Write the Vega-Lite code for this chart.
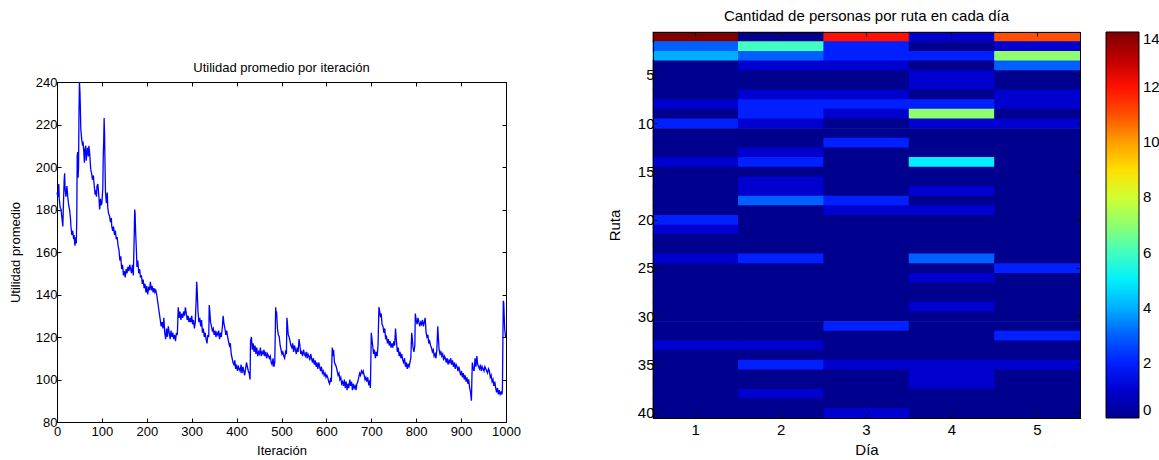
{
  "$schema": "https://vega.github.io/schema/vega-lite/v6.json",
  "padding": {"left": 8, "top": 8, "right": 0, "bottom": 0},
  "spacing": 85,
  "config": {
    "font": "Liberation Sans",
    "view": {"stroke": "#000", "strokeWidth": 1},
    "axis": {"domainColor": "#000", "tickColor": "#000", "labelColor": "#000", "titleColor": "#000", "titleFontWeight": "normal", "grid": false, "tickSize": -4, "labelPadding": 8, "domainWidth": 1, "labelFlush": false},
    "title": {"color": "#000", "fontWeight": "normal"},
    "legend": {"labelColor": "#000"}
  },
  "hconcat": [
    {
      "spacing": 0,
      "vconcat": [
        {
          "width": 449,
          "height": 29,
          "view": {"stroke": null},
          "data": {"values": [{}]},
          "mark": {"type": "point", "opacity": 0}
        },
        {
          "width": 449,
          "height": 340,
          "title": {"text": "Utilidad promedio por iteración", "fontSize": 13, "offset": 1},
          "data": {"values": [
            {"i":0,"u":188},{"i":2,"u":186},{"i":4,"u":192},{"i":5,"u":185},{"i":7,"u":181},{"i":9,"u":180},{"i":11,"u":176},{"i":13,"u":172},{"i":14,"u":180},{"i":16,"u":194},{"i":17,"u":197},{"i":18,"u":190},{"i":20,"u":186},{"i":22,"u":191},{"i":24,"u":186},{"i":26,"u":182},{"i":28,"u":180},{"i":30,"u":176},{"i":31,"u":172},{"i":33,"u":168},{"i":35,"u":170},{"i":37,"u":166},{"i":38,"u":168},{"i":40,"u":163},{"i":42,"u":167},{"i":43,"u":164},{"i":44,"u":175},{"i":45,"u":205},{"i":46,"u":207},{"i":47,"u":195},{"i":48,"u":200},{"i":49,"u":226},{"i":50,"u":240},{"i":51,"u":236},{"i":52,"u":228},{"i":53,"u":218},{"i":55,"u":213},{"i":57,"u":210},{"i":58,"u":212},{"i":60,"u":206},{"i":61,"u":202},{"i":62,"u":208},{"i":64,"u":210},{"i":65,"u":203},{"i":66,"u":205},{"i":68,"u":209},{"i":70,"u":205},{"i":71,"u":210},{"i":73,"u":206},{"i":75,"u":199},{"i":77,"u":197},{"i":79,"u":194},{"i":81,"u":196},{"i":83,"u":191},{"i":85,"u":187},{"i":86,"u":189},{"i":88,"u":186},{"i":89,"u":191},{"i":91,"u":192},{"i":93,"u":187},{"i":95,"u":180},{"i":97,"u":185},{"i":98,"u":182},{"i":100,"u":183},{"i":102,"u":190},{"i":103,"u":205},{"i":104,"u":212},{"i":105,"u":223},{"i":106,"u":215},{"i":107,"u":200},{"i":108,"u":188},{"i":110,"u":183},{"i":112,"u":188},{"i":113,"u":181},{"i":115,"u":178},{"i":117,"u":177},{"i":119,"u":174},{"i":121,"u":176},{"i":122,"u":172},{"i":124,"u":170},{"i":126,"u":172},{"i":128,"u":168},{"i":130,"u":170},{"i":132,"u":166},{"i":134,"u":167},{"i":136,"u":163},{"i":138,"u":161},{"i":140,"u":156},{"i":142,"u":158},{"i":144,"u":152},{"i":146,"u":154},{"i":148,"u":149},{"i":150,"u":151},{"i":152,"u":148},{"i":154,"u":152},{"i":156,"u":150},{"i":158,"u":153},{"i":160,"u":151},{"i":162,"u":154},{"i":164,"u":152},{"i":166,"u":150},{"i":168,"u":154},{"i":170,"u":149},{"i":172,"u":168},{"i":173,"u":180},{"i":174,"u":178},{"i":175,"u":170},{"i":177,"u":160},{"i":178,"u":153},{"i":180,"u":156},{"i":182,"u":150},{"i":184,"u":152},{"i":186,"u":148},{"i":188,"u":149},{"i":190,"u":145},{"i":192,"u":147},{"i":194,"u":143},{"i":196,"u":145},{"i":198,"u":141},{"i":200,"u":144},{"i":202,"u":140},{"i":204,"u":143},{"i":206,"u":142},{"i":208,"u":146},{"i":210,"u":142},{"i":212,"u":144},{"i":214,"u":141},{"i":216,"u":143},{"i":218,"u":141},{"i":220,"u":142},{"i":222,"u":140},{"i":224,"u":137},{"i":226,"u":134},{"i":228,"u":131},{"i":230,"u":128},{"i":232,"u":125},{"i":234,"u":127},{"i":236,"u":124},{"i":238,"u":129},{"i":240,"u":122},{"i":242,"u":119},{"i":244,"u":124},{"i":246,"u":120},{"i":248,"u":125},{"i":250,"u":122},{"i":252,"u":119},{"i":254,"u":123},{"i":256,"u":120},{"i":258,"u":122},{"i":260,"u":119},{"i":262,"u":121},{"i":264,"u":118},{"i":266,"u":122},{"i":268,"u":121},{"i":270,"u":134},{"i":272,"u":129},{"i":274,"u":132},{"i":276,"u":128},{"i":278,"u":131},{"i":280,"u":129},{"i":282,"u":132},{"i":284,"u":130},{"i":286,"u":134},{"i":288,"u":131},{"i":290,"u":128},{"i":292,"u":130},{"i":294,"u":127},{"i":296,"u":129},{"i":298,"u":127},{"i":300,"u":130},{"i":302,"u":126},{"i":304,"u":128},{"i":306,"u":124},{"i":308,"u":127},{"i":310,"u":138},{"i":311,"u":146},{"i":312,"u":143},{"i":314,"u":132},{"i":316,"u":127},{"i":318,"u":129},{"i":320,"u":125},{"i":322,"u":128},{"i":324,"u":122},{"i":326,"u":124},{"i":328,"u":120},{"i":330,"u":122},{"i":332,"u":119},{"i":334,"u":117},{"i":336,"u":121},{"i":338,"u":120},{"i":339,"u":135},{"i":340,"u":133},{"i":342,"u":127},{"i":344,"u":125},{"i":346,"u":123},{"i":348,"u":124},{"i":350,"u":121},{"i":352,"u":123},{"i":354,"u":120},{"i":356,"u":122},{"i":358,"u":121},{"i":360,"u":123},{"i":362,"u":119},{"i":364,"u":122},{"i":366,"u":120},{"i":368,"u":124},{"i":370,"u":130},{"i":372,"u":126},{"i":374,"u":124},{"i":376,"u":121},{"i":378,"u":123},{"i":380,"u":120},{"i":382,"u":118},{"i":384,"u":116},{"i":386,"u":117},{"i":388,"u":112},{"i":390,"u":110},{"i":392,"u":108},{"i":394,"u":107},{"i":396,"u":109},{"i":398,"u":105},{"i":400,"u":107},{"i":402,"u":104},{"i":404,"u":106},{"i":406,"u":105},{"i":408,"u":104},{"i":410,"u":107},{"i":412,"u":103},{"i":414,"u":106},{"i":416,"u":104},{"i":418,"u":102},{"i":420,"u":105},{"i":422,"u":108},{"i":424,"u":106},{"i":426,"u":104},{"i":428,"u":103},{"i":430,"u":100},{"i":431,"u":118},{"i":433,"u":120},{"i":435,"u":114},{"i":437,"u":117},{"i":439,"u":113},{"i":441,"u":116},{"i":443,"u":112},{"i":445,"u":115},{"i":447,"u":111},{"i":449,"u":113},{"i":451,"u":112},{"i":453,"u":115},{"i":455,"u":111},{"i":457,"u":113},{"i":459,"u":112},{"i":461,"u":114},{"i":463,"u":111},{"i":465,"u":113},{"i":467,"u":110},{"i":469,"u":112},{"i":471,"u":111},{"i":473,"u":110},{"i":475,"u":111},{"i":477,"u":108},{"i":479,"u":107},{"i":481,"u":110},{"i":483,"u":106},{"i":485,"u":108},{"i":486,"u":120},{"i":487,"u":134},{"i":488,"u":131},{"i":489,"u":132},{"i":491,"u":124},{"i":493,"u":121},{"i":495,"u":120},{"i":497,"u":116},{"i":499,"u":114},{"i":501,"u":112},{"i":503,"u":113},{"i":505,"u":111},{"i":507,"u":110},{"i":509,"u":113},{"i":511,"u":112},{"i":512,"u":129},{"i":513,"u":127},{"i":515,"u":121},{"i":517,"u":120},{"i":519,"u":118},{"i":521,"u":116},{"i":523,"u":115},{"i":525,"u":117},{"i":527,"u":113},{"i":529,"u":116},{"i":531,"u":114},{"i":533,"u":112},{"i":535,"u":115},{"i":537,"u":113},{"i":539,"u":119},{"i":541,"u":116},{"i":543,"u":112},{"i":545,"u":113},{"i":547,"u":111},{"i":549,"u":114},{"i":551,"u":112},{"i":553,"u":111},{"i":555,"u":113},{"i":557,"u":110},{"i":559,"u":112},{"i":561,"u":111},{"i":563,"u":109},{"i":565,"u":112},{"i":567,"u":110},{"i":569,"u":108},{"i":571,"u":110},{"i":573,"u":107},{"i":575,"u":109},{"i":577,"u":106},{"i":579,"u":108},{"i":581,"u":105},{"i":583,"u":108},{"i":585,"u":106},{"i":587,"u":104},{"i":589,"u":106},{"i":591,"u":103},{"i":593,"u":104},{"i":595,"u":102},{"i":597,"u":103},{"i":599,"u":101},{"i":601,"u":102},{"i":603,"u":101},{"i":605,"u":99},{"i":607,"u":98},{"i":609,"u":100},{"i":611,"u":99},{"i":613,"u":115},{"i":614,"u":111},{"i":616,"u":114},{"i":618,"u":108},{"i":620,"u":107},{"i":622,"u":106},{"i":624,"u":104},{"i":626,"u":102},{"i":628,"u":103},{"i":630,"u":100},{"i":632,"u":101},{"i":634,"u":98},{"i":636,"u":99},{"i":638,"u":97},{"i":640,"u":100},{"i":642,"u":96},{"i":644,"u":99},{"i":646,"u":95},{"i":648,"u":98},{"i":650,"u":96},{"i":652,"u":100},{"i":654,"u":97},{"i":656,"u":99},{"i":658,"u":95},{"i":660,"u":98},{"i":662,"u":96},{"i":664,"u":97},{"i":666,"u":95},{"i":668,"u":98},{"i":670,"u":99},{"i":672,"u":101},{"i":674,"u":103},{"i":676,"u":102},{"i":678,"u":104},{"i":680,"u":103},{"i":682,"u":104},{"i":684,"u":102},{"i":686,"u":100},{"i":688,"u":101},{"i":690,"u":99},{"i":692,"u":101},{"i":694,"u":98},{"i":696,"u":99},{"i":698,"u":96},{"i":700,"u":122},{"i":701,"u":120},{"i":703,"u":116},{"i":705,"u":112},{"i":707,"u":114},{"i":709,"u":110},{"i":711,"u":113},{"i":713,"u":111},{"i":715,"u":116},{"i":717,"u":134},{"i":718,"u":133},{"i":720,"u":130},{"i":722,"u":131},{"i":724,"u":126},{"i":726,"u":125},{"i":728,"u":122},{"i":730,"u":124},{"i":732,"u":119},{"i":734,"u":120},{"i":736,"u":117},{"i":738,"u":119},{"i":740,"u":116},{"i":742,"u":118},{"i":744,"u":115},{"i":746,"u":117},{"i":748,"u":115},{"i":750,"u":118},{"i":752,"u":116},{"i":754,"u":124},{"i":756,"u":118},{"i":758,"u":113},{"i":760,"u":115},{"i":762,"u":111},{"i":764,"u":113},{"i":766,"u":110},{"i":768,"u":112},{"i":770,"u":109},{"i":772,"u":108},{"i":774,"u":110},{"i":776,"u":106},{"i":778,"u":108},{"i":780,"u":105},{"i":782,"u":107},{"i":784,"u":106},{"i":786,"u":108},{"i":788,"u":110},{"i":790,"u":122},{"i":791,"u":120},{"i":793,"u":115},{"i":795,"u":113},{"i":797,"u":116},{"i":798,"u":131},{"i":800,"u":128},{"i":802,"u":126},{"i":804,"u":129},{"i":806,"u":127},{"i":808,"u":125},{"i":810,"u":127},{"i":812,"u":126},{"i":814,"u":128},{"i":816,"u":125},{"i":818,"u":127},{"i":820,"u":129},{"i":822,"u":122},{"i":824,"u":120},{"i":826,"u":121},{"i":828,"u":117},{"i":830,"u":118},{"i":832,"u":116},{"i":834,"u":115},{"i":836,"u":113},{"i":838,"u":114},{"i":840,"u":111},{"i":842,"u":112},{"i":844,"u":110},{"i":846,"u":114},{"i":848,"u":125},{"i":849,"u":121},{"i":851,"u":114},{"i":853,"u":112},{"i":855,"u":113},{"i":857,"u":111},{"i":859,"u":112},{"i":861,"u":109},{"i":863,"u":111},{"i":865,"u":110},{"i":867,"u":108},{"i":869,"u":110},{"i":871,"u":107},{"i":873,"u":109},{"i":875,"u":108},{"i":877,"u":110},{"i":879,"u":107},{"i":881,"u":109},{"i":883,"u":106},{"i":885,"u":108},{"i":887,"u":105},{"i":889,"u":107},{"i":891,"u":106},{"i":893,"u":104},{"i":895,"u":106},{"i":897,"u":104},{"i":899,"u":102},{"i":901,"u":104},{"i":903,"u":101},{"i":905,"u":103},{"i":907,"u":100},{"i":909,"u":102},{"i":911,"u":99},{"i":913,"u":101},{"i":915,"u":98},{"i":917,"u":100},{"i":919,"u":96},{"i":921,"u":94},{"i":923,"u":90},{"i":924,"u":100},{"i":925,"u":108},{"i":927,"u":105},{"i":929,"u":104},{"i":931,"u":110},{"i":933,"u":106},{"i":935,"u":111},{"i":937,"u":107},{"i":939,"u":106},{"i":941,"u":105},{"i":943,"u":107},{"i":945,"u":104},{"i":947,"u":106},{"i":949,"u":105},{"i":951,"u":104},{"i":953,"u":106},{"i":955,"u":105},{"i":957,"u":104},{"i":959,"u":103},{"i":961,"u":105},{"i":963,"u":104},{"i":965,"u":101},{"i":967,"u":102},{"i":969,"u":99},{"i":971,"u":100},{"i":973,"u":97},{"i":975,"u":99},{"i":977,"u":96},{"i":979,"u":94},{"i":981,"u":96},{"i":983,"u":93},{"i":985,"u":95},{"i":987,"u":93},{"i":989,"u":94},{"i":991,"u":93},{"i":992,"u":95},{"i":994,"u":137},{"i":995,"u":136},{"i":997,"u":124},{"i":999,"u":120}
          ]},
          "layer": [
            {
              "mark": {"type": "line", "opacity": 0},
              "encoding": {
                "x": {"field": "i", "type": "quantitative", "scale": {"domain": [0, 1000], "nice": false},
                      "axis": {"orient": "top", "labels": false, "title": null, "values": [0, 100, 200, 300, 400, 500, 600, 700, 800, 900, 1000]}},
                "y": {"field": "u", "type": "quantitative", "scale": {"domain": [80, 240], "nice": false, "zero": false},
                      "axis": {"orient": "right", "labels": false, "title": null, "values": [80, 100, 120, 140, 160, 180, 200, 220, 240]}}
              }
            },
            {
              "mark": {"type": "line", "stroke": "#0000ff", "strokeWidth": 1.3},
              "encoding": {
                "x": {"field": "i", "type": "quantitative", "title": "Iteración",
                      "axis": {"orient": "bottom", "format": "d", "values": [0, 100, 200, 300, 400, 500, 600, 700, 800, 900, 1000], "labelFontSize": 13, "titleFontSize": 13, "labelPadding": 7, "titlePadding": 6}},
                "y": {"field": "u", "type": "quantitative", "title": "Utilidad promedio",
                      "axis": {"orient": "left", "values": [80, 100, 120, 140, 160, 180, 200, 220, 240], "labelFontSize": 13, "titleFontSize": 13, "labelPadding": 4, "titlePadding": 13}}
              }
            }
          ],
          "resolve": {"axis": {"x": "independent", "y": "independent"}}
        }
      ]
    },
    {
      "width": 427,
      "height": 386,
      "title": {"text": "Cantidad de personas por ruta en cada día", "fontSize": 15, "offset": 8},
      "data": {"values": [
        {"ruta":1,"dia":1,"personas":14},{"ruta":1,"dia":2,"personas":0},{"ruta":1,"dia":3,"personas":12},{"ruta":1,"dia":4,"personas":1},{"ruta":1,"dia":5,"personas":11},
        {"ruta":2,"dia":1,"personas":3},{"ruta":2,"dia":2,"personas":6},{"ruta":2,"dia":3,"personas":2},{"ruta":2,"dia":4,"personas":0},{"ruta":2,"dia":5,"personas":1},
        {"ruta":3,"dia":1,"personas":4},{"ruta":3,"dia":2,"personas":3},{"ruta":3,"dia":3,"personas":2},{"ruta":3,"dia":4,"personas":2},{"ruta":3,"dia":5,"personas":7},
        {"ruta":4,"dia":1,"personas":0},{"ruta":4,"dia":2,"personas":1},{"ruta":4,"dia":3,"personas":1},{"ruta":4,"dia":4,"personas":0},{"ruta":4,"dia":5,"personas":3},
        {"ruta":5,"dia":1,"personas":0},{"ruta":5,"dia":2,"personas":0},{"ruta":5,"dia":3,"personas":0},{"ruta":5,"dia":4,"personas":1},{"ruta":5,"dia":5,"personas":0},
        {"ruta":6,"dia":1,"personas":0},{"ruta":6,"dia":2,"personas":0},{"ruta":6,"dia":3,"personas":0},{"ruta":6,"dia":4,"personas":1},{"ruta":6,"dia":5,"personas":0},
        {"ruta":7,"dia":1,"personas":0},{"ruta":7,"dia":2,"personas":1},{"ruta":7,"dia":3,"personas":1},{"ruta":7,"dia":4,"personas":0},{"ruta":7,"dia":5,"personas":1},
        {"ruta":8,"dia":1,"personas":1},{"ruta":8,"dia":2,"personas":2},{"ruta":8,"dia":3,"personas":2},{"ruta":8,"dia":4,"personas":2},{"ruta":8,"dia":5,"personas":1},
        {"ruta":9,"dia":1,"personas":0},{"ruta":9,"dia":2,"personas":2},{"ruta":9,"dia":3,"personas":1},{"ruta":9,"dia":4,"personas":7},{"ruta":9,"dia":5,"personas":0},
        {"ruta":10,"dia":1,"personas":2},{"ruta":10,"dia":2,"personas":1},{"ruta":10,"dia":3,"personas":0},{"ruta":10,"dia":4,"personas":1},{"ruta":10,"dia":5,"personas":1},
        {"ruta":11,"dia":1,"personas":0},{"ruta":11,"dia":2,"personas":0},{"ruta":11,"dia":3,"personas":0},{"ruta":11,"dia":4,"personas":0},{"ruta":11,"dia":5,"personas":0},
        {"ruta":12,"dia":1,"personas":0},{"ruta":12,"dia":2,"personas":0},{"ruta":12,"dia":3,"personas":2},{"ruta":12,"dia":4,"personas":0},{"ruta":12,"dia":5,"personas":0},
        {"ruta":13,"dia":1,"personas":0},{"ruta":13,"dia":2,"personas":1},{"ruta":13,"dia":3,"personas":0},{"ruta":13,"dia":4,"personas":0},{"ruta":13,"dia":5,"personas":0},
        {"ruta":14,"dia":1,"personas":1},{"ruta":14,"dia":2,"personas":2},{"ruta":14,"dia":3,"personas":0},{"ruta":14,"dia":4,"personas":5},{"ruta":14,"dia":5,"personas":0},
        {"ruta":15,"dia":1,"personas":0},{"ruta":15,"dia":2,"personas":0},{"ruta":15,"dia":3,"personas":0},{"ruta":15,"dia":4,"personas":0},{"ruta":15,"dia":5,"personas":0},
        {"ruta":16,"dia":1,"personas":0},{"ruta":16,"dia":2,"personas":1},{"ruta":16,"dia":3,"personas":0},{"ruta":16,"dia":4,"personas":0},{"ruta":16,"dia":5,"personas":0},
        {"ruta":17,"dia":1,"personas":0},{"ruta":17,"dia":2,"personas":1},{"ruta":17,"dia":3,"personas":0},{"ruta":17,"dia":4,"personas":1},{"ruta":17,"dia":5,"personas":0},
        {"ruta":18,"dia":1,"personas":0},{"ruta":18,"dia":2,"personas":3},{"ruta":18,"dia":3,"personas":2},{"ruta":18,"dia":4,"personas":0},{"ruta":18,"dia":5,"personas":0},
        {"ruta":19,"dia":1,"personas":0},{"ruta":19,"dia":2,"personas":0},{"ruta":19,"dia":3,"personas":1},{"ruta":19,"dia":4,"personas":1},{"ruta":19,"dia":5,"personas":0},
        {"ruta":20,"dia":1,"personas":2},{"ruta":20,"dia":2,"personas":0},{"ruta":20,"dia":3,"personas":0},{"ruta":20,"dia":4,"personas":0},{"ruta":20,"dia":5,"personas":0},
        {"ruta":21,"dia":1,"personas":1},{"ruta":21,"dia":2,"personas":0},{"ruta":21,"dia":3,"personas":0},{"ruta":21,"dia":4,"personas":0},{"ruta":21,"dia":5,"personas":0},
        {"ruta":22,"dia":1,"personas":0},{"ruta":22,"dia":2,"personas":0},{"ruta":22,"dia":3,"personas":0},{"ruta":22,"dia":4,"personas":0},{"ruta":22,"dia":5,"personas":0},
        {"ruta":23,"dia":1,"personas":0},{"ruta":23,"dia":2,"personas":0},{"ruta":23,"dia":3,"personas":0},{"ruta":23,"dia":4,"personas":0},{"ruta":23,"dia":5,"personas":0},
        {"ruta":24,"dia":1,"personas":1},{"ruta":24,"dia":2,"personas":2},{"ruta":24,"dia":3,"personas":0},{"ruta":24,"dia":4,"personas":3},{"ruta":24,"dia":5,"personas":0},
        {"ruta":25,"dia":1,"personas":0},{"ruta":25,"dia":2,"personas":0},{"ruta":25,"dia":3,"personas":0},{"ruta":25,"dia":4,"personas":0},{"ruta":25,"dia":5,"personas":2},
        {"ruta":26,"dia":1,"personas":0},{"ruta":26,"dia":2,"personas":0},{"ruta":26,"dia":3,"personas":0},{"ruta":26,"dia":4,"personas":1},{"ruta":26,"dia":5,"personas":0},
        {"ruta":27,"dia":1,"personas":0},{"ruta":27,"dia":2,"personas":0},{"ruta":27,"dia":3,"personas":0},{"ruta":27,"dia":4,"personas":0},{"ruta":27,"dia":5,"personas":0},
        {"ruta":28,"dia":1,"personas":0},{"ruta":28,"dia":2,"personas":0},{"ruta":28,"dia":3,"personas":0},{"ruta":28,"dia":4,"personas":0},{"ruta":28,"dia":5,"personas":0},
        {"ruta":29,"dia":1,"personas":0},{"ruta":29,"dia":2,"personas":0},{"ruta":29,"dia":3,"personas":0},{"ruta":29,"dia":4,"personas":1},{"ruta":29,"dia":5,"personas":0},
        {"ruta":30,"dia":1,"personas":0},{"ruta":30,"dia":2,"personas":0},{"ruta":30,"dia":3,"personas":0},{"ruta":30,"dia":4,"personas":0},{"ruta":30,"dia":5,"personas":0},
        {"ruta":31,"dia":1,"personas":0},{"ruta":31,"dia":2,"personas":0},{"ruta":31,"dia":3,"personas":2},{"ruta":31,"dia":4,"personas":0},{"ruta":31,"dia":5,"personas":0},
        {"ruta":32,"dia":1,"personas":0},{"ruta":32,"dia":2,"personas":0},{"ruta":32,"dia":3,"personas":0},{"ruta":32,"dia":4,"personas":0},{"ruta":32,"dia":5,"personas":2},
        {"ruta":33,"dia":1,"personas":1},{"ruta":33,"dia":2,"personas":1},{"ruta":33,"dia":3,"personas":0},{"ruta":33,"dia":4,"personas":0},{"ruta":33,"dia":5,"personas":0},
        {"ruta":34,"dia":1,"personas":0},{"ruta":34,"dia":2,"personas":0},{"ruta":34,"dia":3,"personas":0},{"ruta":34,"dia":4,"personas":0},{"ruta":34,"dia":5,"personas":0},
        {"ruta":35,"dia":1,"personas":0},{"ruta":35,"dia":2,"personas":2},{"ruta":35,"dia":3,"personas":1},{"ruta":35,"dia":4,"personas":1},{"ruta":35,"dia":5,"personas":1},
        {"ruta":36,"dia":1,"personas":0},{"ruta":36,"dia":2,"personas":0},{"ruta":36,"dia":3,"personas":0},{"ruta":36,"dia":4,"personas":1},{"ruta":36,"dia":5,"personas":0},
        {"ruta":37,"dia":1,"personas":0},{"ruta":37,"dia":2,"personas":0},{"ruta":37,"dia":3,"personas":0},{"ruta":37,"dia":4,"personas":1},{"ruta":37,"dia":5,"personas":0},
        {"ruta":38,"dia":1,"personas":0},{"ruta":38,"dia":2,"personas":1},{"ruta":38,"dia":3,"personas":0},{"ruta":38,"dia":4,"personas":0},{"ruta":38,"dia":5,"personas":0},
        {"ruta":39,"dia":1,"personas":0},{"ruta":39,"dia":2,"personas":0},{"ruta":39,"dia":3,"personas":0},{"ruta":39,"dia":4,"personas":0},{"ruta":39,"dia":5,"personas":0},
        {"ruta":40,"dia":1,"personas":0},{"ruta":40,"dia":2,"personas":0},{"ruta":40,"dia":3,"personas":1},{"ruta":40,"dia":4,"personas":0},{"ruta":40,"dia":5,"personas":0}
      ]},
      "layer": [
        {
          "mark": {"type": "rect", "width": {"band": 1.01}, "height": {"band": 1.07}},
          "encoding": {
            "x": {"field": "dia", "type": "ordinal", "title": "Día", "scale": {"paddingInner": 0, "paddingOuter": 0},
                  "axis": {"orient": "bottom", "labelAngle": 0, "labelFontSize": 15, "titleFontSize": 15, "labelPadding": 8, "titlePadding": 5}},
            "y": {"field": "ruta", "type": "ordinal", "title": "Ruta", "scale": {"paddingInner": 0, "paddingOuter": 0},
                  "axis": {"orient": "left", "values": [5, 10, 15, 20, 25, 30, 35, 40], "labelFontSize": 15, "titleFontSize": 15, "labelPadding": 3, "titlePadding": 15}},
            "color": {"field": "personas", "type": "quantitative",
                      "scale": {"domain": [0, 1, 2, 3, 4, 5, 6, 7, 8, 9, 10, 11, 12, 13, 14],
                                "range": ["#00008f", "#0000cf", "#0020ff", "#0060ff", "#00b0ff", "#00f0ff", "#40ffbf", "#8fff70", "#cfff30", "#ffdf00", "#ff9f00", "#ff5000", "#ff1000", "#bf0000", "#800000"],
                                "interpolate": "rgb"},
                      "legend": {"type": "gradient", "orient": "right", "offset": 25, "title": null, "direction": "vertical", "gradientLength": 386, "gradientThickness": 33,
                                 "values": [0, 2, 4, 6, 8, 10, 12, 14], "labelFontSize": 15, "labelOffset": 4, "labelBaseline": "middle",
                                 "gradientStrokeColor": "#000", "gradientStrokeWidth": 1}}
          }
        },
        {
          "mark": {"type": "rect", "opacity": 0},
          "encoding": {
            "x": {"field": "dia", "type": "ordinal", "axis": {"orient": "top", "labels": false, "title": null}},
            "y": {"field": "ruta", "type": "ordinal", "axis": {"orient": "right", "labels": false, "title": null, "values": [5, 10, 15, 20, 25, 30, 35, 40]}}
          }
        }
      ],
      "resolve": {"axis": {"x": "independent", "y": "independent"}}
    }
  ]
}
